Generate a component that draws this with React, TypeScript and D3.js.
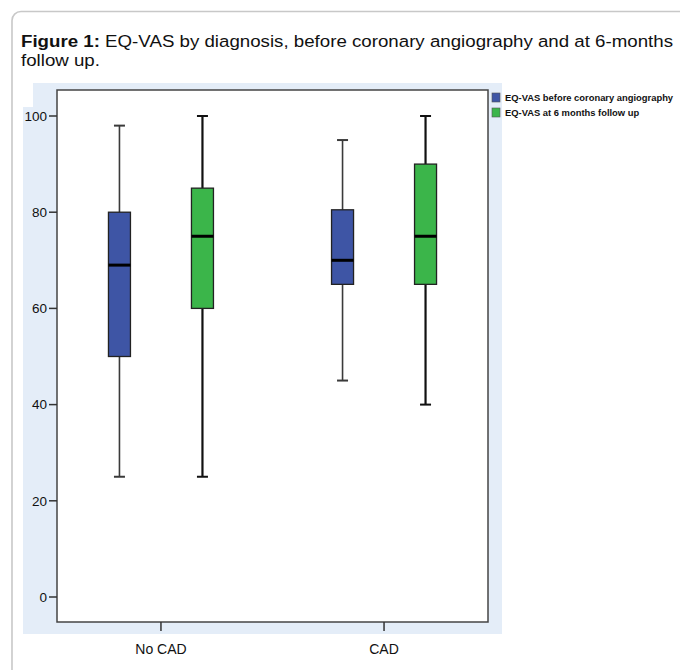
import React from "react";
import * as d3 from "d3";

const categories = ["No CAD", "CAD"];
const seriesNames = ["EQ-VAS before coronary angiography", "EQ-VAS at 6 months follow up"];
const seriesColors = ["#3E55A5", "#3BB54A"];

const beforeMin = [25, 45];
const beforeQ1 = [50, 65];
const beforeMedian = [69, 70];
const beforeQ3 = [80, 80.5];
const beforeMax = [98, 95];

const afterMin = [25, 40];
const afterQ1 = [60, 65];
const afterMedian = [75, 75];
const afterQ3 = [85, 90];
const afterMax = [100, 100];

const yTicks = [0, 20, 40, 60, 80, 100];

const FONT = "Arial, 'Liberation Sans', sans-serif";

export default function App() {
  const W = 680, H = 670;
  const plot = { left: 57, right: 488, top: 90, bottom: 622 };
  const y = d3.scaleLinear().domain([0, 100]).range([597, 116]);
  const x = d3.scalePoint<string>().domain(categories).range([plot.left, plot.right]).padding(0.466);
  const xs = d3.scalePoint<string>().domain(seriesNames).range([-41.5, 41.5]);
  const boxW = 22;
  const capW = 11;

  const stats = [
    { min: beforeMin, q1: beforeQ1, med: beforeMedian, q3: beforeQ3, max: beforeMax, wColor: "#3a3a3a", wWidth: 1.6 },
    { min: afterMin, q1: afterQ1, med: afterMedian, q3: afterQ3, max: afterMax, wColor: "#111", wWidth: 2.2 },
  ];

  return (
    <svg width={W} height={H} style={{ position: "absolute", left: 0, top: 0, background: "#fff" }} fontFamily={FONT}>
      <rect x={12} y={11.5} width={700} height={700} rx={9} fill="none" stroke="#c8c8c8" strokeWidth={1.6} />
      <g transform="translate(21,0) scale(1.1,1)">
        <text x={0} y={47} fontSize={17} fill="#111">
          <tspan fontWeight="bold">Figure 1:</tspan>
          <tspan> EQ-VAS by diagnosis, before coronary angiography and at 6-months</tspan>
        </text>
        <text x={0} y={66} fontSize={17} fill="#111">follow up.</text>
      </g>

      {/* background panel */}
      <rect x={33} y={83} width={469} height={551} fill="#E4EDF8" />
      <rect x={23} y={107} width={12} height={527} fill="#E4EDF8" />
      <rect x={plot.left} y={plot.top} width={plot.right - plot.left} height={plot.bottom - plot.top} fill="#fff" stroke="#444" strokeWidth={1.5} />

      {/* y axis ticks */}
      {yTicks.map((t) => (
        <g key={t}>
          <line x1={49} x2={plot.left} y1={y(t)} y2={y(t)} stroke="#333" strokeWidth={1.5} />
          <text x={47} y={y(t)} dy="0.35em" textAnchor="end" fontSize={13.5} fill="#111">{t}</text>
        </g>
      ))}

      {/* x axis ticks */}
      {categories.map((c) => (
        <g key={c}>
          <line x1={x(c)} x2={x(c)} y1={plot.bottom} y2={631} stroke="#333" strokeWidth={1.5} />
          <text x={x(c)} y={654} textAnchor="middle" fontSize={14} fill="#111">{c}</text>
        </g>
      ))}

      {/* boxes */}
      {categories.map((c, ci) =>
        seriesNames.map((s, si) => {
          const st = stats[si];
          const cx = (x(c) as number) + (xs(s) as number);
          return (
            <g key={c + s}>
              <line x1={cx} x2={cx} y1={y(st.max[ci])} y2={y(st.q3[ci])} stroke={st.wColor} strokeWidth={st.wWidth} />
              <line x1={cx} x2={cx} y1={y(st.q1[ci])} y2={y(st.min[ci])} stroke={st.wColor} strokeWidth={st.wWidth} />
              <line x1={cx - capW / 2} x2={cx + capW / 2} y1={y(st.max[ci])} y2={y(st.max[ci])} stroke={st.wColor} strokeWidth={2} />
              <line x1={cx - capW / 2} x2={cx + capW / 2} y1={y(st.min[ci])} y2={y(st.min[ci])} stroke={st.wColor} strokeWidth={2} />
              <rect x={cx - boxW / 2} y={y(st.q3[ci])} width={boxW} height={y(st.q1[ci]) - y(st.q3[ci])} fill={seriesColors[si]} stroke="#222" strokeWidth={1.3} />
              <line x1={cx - boxW / 2} x2={cx + boxW / 2} y1={y(st.med[ci])} y2={y(st.med[ci])} stroke="#000" strokeWidth={3} />
            </g>
          );
        })
      )}

      {/* legend */}
      {seriesNames.map((s, i) => (
        <g key={s} transform={`translate(492, ${93 + i * 15})`}>
          <rect x={0} y={0} width={8} height={9} fill={seriesColors[i]} stroke="#555" strokeWidth={0.6} />
          <text x={13} y={8} fontSize={9.4} fontWeight="bold" fill="#111">{s}</text>
        </g>
      ))}
    </svg>
  );
}
